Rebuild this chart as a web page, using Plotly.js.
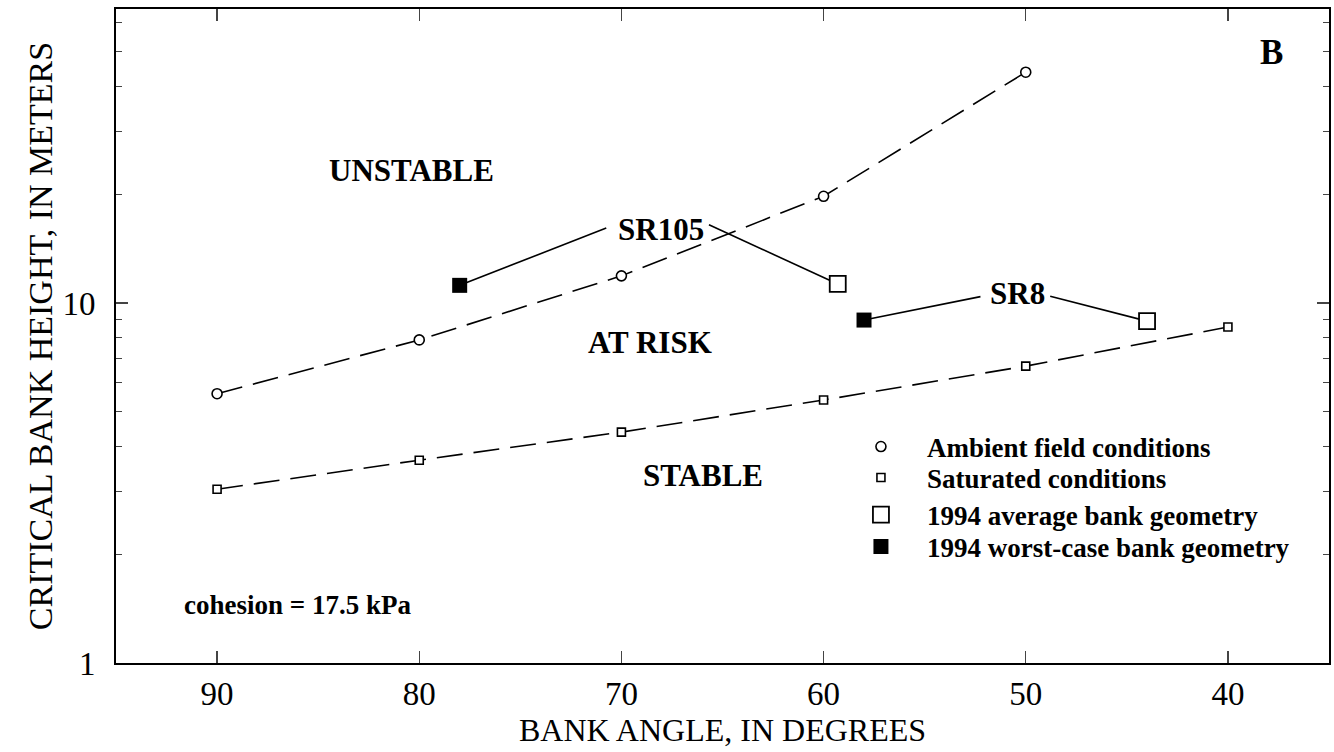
<!DOCTYPE html>
<html>
<head>
<meta charset="utf-8">
<script src="https://cdn.plot.ly/plotly-3.0.1.min.js"></script>
<style>body{margin:0;background:#fff}#chart{width:1334px;height:752px}</style>
</head>
<body>
<div id="chart"></div>
<script>
// ---- data ----
const ambientAngle = [90, 80, 70, 60, 50];
const ambientHeight = [5.6, 7.9, 11.9, 19.8, 43.8];
const saturatedAngle = [90, 80, 70, 60, 50, 40];
const saturatedHeight = [3.04, 3.66, 4.38, 5.38, 6.68, 8.58];
const siteNames = ["SR105", "SR8"];
const avgAngle = [59.3, 44.0];
const avgHeight = [11.3, 8.91];
const worstAngle = [78.0, 58.0];
const worstHeight = [11.2, 8.97];
const xTickVals = [90, 80, 70, 60, 50, 40];
const yTickVals = [1, 10];
const yTickText = ["1", "10"];
const yMinorVals = [2,3,4,5,6,7,8,9,20,30,40,50,60];
const legendNames = ["Ambient field conditions", "Saturated conditions", "1994 average bank geometry", "1994 worst-case bank geometry"];
const zoneLabels = ["UNSTABLE", "AT RISK", "STABLE"];
const zoneAngle = [80.38, 68.58, 65.96];
const zoneHeight = [23.4, 7.79, 3.31];
// label anchors for site names (angle, height) and connector ends
const siteLabelAngle = [68.04, 50.42];
const siteLabelHeight = [16.05, 10.66];
const siteLineLeftEnd = [[70.75, 16.16], [52.24, 10.42]];
const siteLineRightStart = [[65.67, 16.5], [48.79, 10.44]];

const serif = "Liberation Serif, Times New Roman, serif";
const traces = [];

// connector lines
for (let i = 0; i < siteNames.length; i++) {
  traces.push({x: [worstAngle[i], siteLineLeftEnd[i][0]], y: [worstHeight[i], siteLineLeftEnd[i][1]],
    mode: "lines", line: {color: "#000", width: 1.6}, showlegend: false, hoverinfo: "skip"});
  traces.push({x: [siteLineRightStart[i][0], avgAngle[i]], y: [siteLineRightStart[i][1], avgHeight[i]],
    mode: "lines", line: {color: "#000", width: 1.6}, showlegend: false, hoverinfo: "skip"});
}

traces.push({x: ambientAngle, y: ambientHeight, mode: "lines+markers", showlegend: false,
  line: {color: "#000", width: 1.6, dash: "26px,11px"},
  marker: {symbol: "circle", size: 10, color: "#fff", line: {width: 1.6, color: "#000"}}});
traces.push({x: saturatedAngle, y: saturatedHeight, mode: "lines+markers", showlegend: false,
  line: {color: "#000", width: 1.6, dash: "26px,11px"},
  marker: {symbol: "square", size: 8, color: "#fff", line: {width: 1.6, color: "#000"}}});
traces.push({x: avgAngle, y: avgHeight, mode: "markers", showlegend: false,
  marker: {symbol: "square", size: 16, color: "#fff", line: {width: 1.8, color: "#000"}}});
traces.push({x: worstAngle, y: worstHeight, mode: "markers", showlegend: false,
  marker: {symbol: "square", size: 15, color: "#000", line: {width: 0}}});

// legend-only entries, each in its own legend box so the rows can be spaced like the original
const legMarkers = [
  {symbol: "circle", size: 10, color: "#fff", line: {width: 1.6, color: "#000"}},
  {symbol: "square", size: 8, color: "#fff", line: {width: 1.6, color: "#000"}},
  {symbol: "square", size: 16, color: "#fff", line: {width: 1.8, color: "#000"}},
  {symbol: "square", size: 15, color: "#000", line: {width: 0}}
];
const legendIds = ["legend", "legend2", "legend3", "legend4"];
const legendRowY = [0.3303, 0.2829, 0.2263, 0.1774];
legendNames.forEach((n, i) => traces.push({x: [null], y: [null], mode: "markers", name: n, marker: legMarkers[i],
  showlegend: true, legend: legendIds[i]}));

const annotations = [];
zoneLabels.forEach((t, i) => annotations.push({x: zoneAngle[i], y: Math.log10(zoneHeight[i]), text: "<b>" + t + "</b>",
  showarrow: false, xanchor: "center", yanchor: "middle", font: {family: serif, size: 31, color: "#000"}}));
siteNames.forEach((t, i) => annotations.push({x: siteLabelAngle[i], y: Math.log10(siteLabelHeight[i]), text: "<b>" + t + "</b>",
  showarrow: false, xanchor: "center", yanchor: "middle", font: {family: serif, size: 31, color: "#000"}}));
annotations.push({xref: "paper", yref: "paper", x: 0.953, y: 0.934, xanchor: "center", yanchor: "middle", text: "<b>B</b>", showarrow: false,
  font: {family: serif, size: 35, color: "#000"}});
annotations.push({xref: "paper", yref: "paper", x: 0.054, y: 0.0887, xanchor: "left", yanchor: "middle", text: "<b>cohesion = 17.5 kPa</b>", showarrow: false,
  font: {family: serif, size: 27, color: "#000"}});

const layout = {
  width: 1334, height: 752,
  margin: {l: 116, r: 5, t: 9, b: 89},
  paper_bgcolor: "#fff", plot_bgcolor: "#fff",
  font: {family: serif, color: "#000"},
  xaxis: {range: [95, 35], tickvals: xTickVals, ticks: "inside", ticklen: 12, tickwidth: 1.2,
    showline: true, linewidth: 2, linecolor: "#000", mirror: "ticks", showgrid: false, zeroline: false,
    tickfont: {family: serif, size: 33}, title: {text: "BANK ANGLE, IN DEGREES", font: {family: serif, size: 32}, standoff: 6}},
  yaxis: {type: "log", range: [0, 1.817], tickvals: yTickVals, ticktext: yTickText, ticks: "inside", ticklen: 12, tickwidth: 1.2,
    showline: true, linewidth: 2, linecolor: "#000", mirror: "ticks", showgrid: false, zeroline: false,
    ticklabelstandoff: 12,
    minor: {tickvals: yMinorVals, ticks: "inside", ticklen: 6, tickwidth: 1, showgrid: false},
    tickfont: {family: serif, size: 33}, title: {text: "CRITICAL BANK HEIGHT, IN METERS", font: {family: serif, size: 34}, standoff: 0}},
  annotations: annotations,
  showlegend: true
};
legendIds.forEach((id, i) => {
  layout[id] = {x: 0.5927, y: legendRowY[i], xanchor: "left", yanchor: "middle", bgcolor: "rgba(0,0,0,0)", borderwidth: 0,
    font: {family: serif, size: 27, color: "#000", weight: "bold"}, itemwidth: 82};
});

Plotly.newPlot("chart", traces, layout, {displayModeBar: false, staticPlot: true});
</script>
</body>
</html>
